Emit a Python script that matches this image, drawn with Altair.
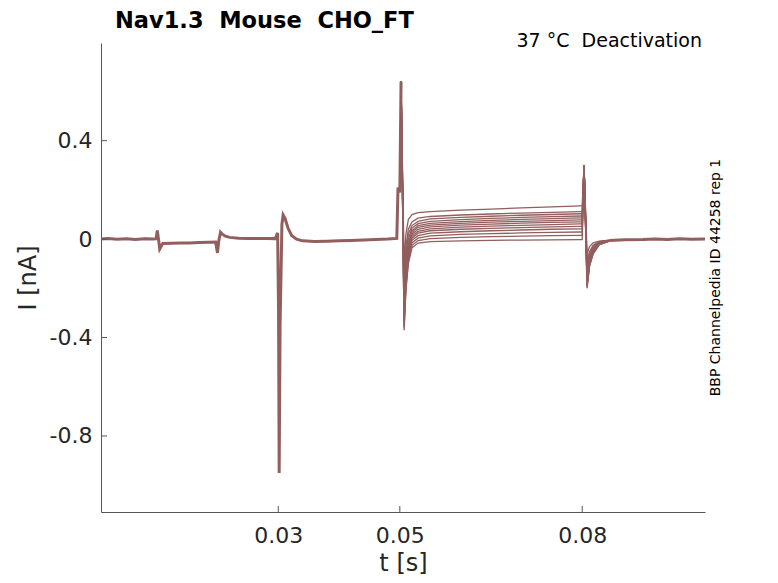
import altair as alt
import pandas as pd

# ---- shared part of all sweeps (before the 0.05 s step) ----
PRE_T = [0.00084, 0.002, 0.0035, 0.005, 0.0065, 0.008, 0.0095, 0.0099, 0.0101, 0.0103, 0.0105,
         0.011, 0.0125, 0.014, 0.0155, 0.017, 0.0185, 0.0197, 0.0200, 0.0202, 0.0205, 0.0208,
         0.0213, 0.022, 0.0235, 0.025, 0.0265, 0.028, 0.0295, 0.0299, 0.03005, 0.03015, 0.0303,
         0.0306, 0.0308, 0.0311, 0.0316, 0.0322, 0.033, 0.034, 0.036, 0.038, 0.040, 0.042, 0.044,
         0.046, 0.048, 0.0495, 0.0497, 0.0500, 0.0502]
PRE_I = [0.0, 0.002, -0.001, 0.001, -0.002, 0.001, 0.0, 0.002, 0.035, 0.0, -0.04,
         -0.018, -0.017, -0.016, -0.016, -0.014, -0.013, -0.012, -0.056, -0.01, 0.028, 0.02,
         0.012, 0.007, 0.004, 0.003, 0.002, 0.003, 0.002, 0.025, -0.3, -0.95, -0.35,
         0.06, 0.098, 0.085, 0.045, 0.015, 0.0, -0.007, -0.01, -0.009, -0.007, -0.006, -0.004,
         -0.002, 0.0, 0.003, 0.21, 0.19, 0.64]

# ---- per-sweep part (step at 0.05 s and tail at 0.08 s) ----
STEP_T = [0.0502, 0.0507, 0.0510, 0.0514, 0.0520, 0.0530, 0.0550, 0.0600, 0.0650, 0.0700,
          0.0750, 0.0797, 0.0800, 0.0803, 0.0808, 0.0812, 0.0818, 0.0828, 0.0845]
SPIKE_ON = 0.64
SPIKE_OFF = 0.30
# columns: 0.0507 .. 0.0797 (11 values), then tail 0.0808 .. 0.0845 (5 values)
TRACE_I = [
    [-0.10, 0.02, 0.08, 0.100, 0.108, 0.112, 0.118, 0.122, 0.127, 0.131, 0.135, -0.06, -0.03, -0.015, -0.008, -0.004],
    [-0.15, -0.03, 0.04, 0.070, 0.085, 0.092, 0.098, 0.102, 0.106, 0.109, 0.112, -0.09, -0.05, -0.025, -0.010, -0.004],
    [-0.18, -0.06, 0.02, 0.055, 0.072, 0.082, 0.088, 0.093, 0.097, 0.100, 0.103, -0.10, -0.06, -0.030, -0.012, -0.005],
    [-0.21, -0.08, 0.00, 0.045, 0.063, 0.072, 0.079, 0.084, 0.088, 0.091, 0.094, -0.12, -0.07, -0.035, -0.014, -0.005],
    [-0.23, -0.10, -0.02, 0.035, 0.055, 0.064, 0.071, 0.076, 0.080, 0.083, 0.086, -0.13, -0.075, -0.040, -0.015, -0.006],
    [-0.25, -0.11, -0.03, 0.028, 0.048, 0.057, 0.064, 0.069, 0.072, 0.075, 0.078, -0.14, -0.08, -0.040, -0.016, -0.006],
    [-0.27, -0.13, -0.04, 0.020, 0.040, 0.050, 0.057, 0.061, 0.065, 0.068, 0.070, -0.15, -0.085, -0.045, -0.017, -0.006],
    [-0.29, -0.14, -0.05, 0.012, 0.032, 0.042, 0.049, 0.053, 0.056, 0.059, 0.062, -0.16, -0.09, -0.050, -0.018, -0.007],
    [-0.31, -0.16, -0.06, 0.004, 0.024, 0.034, 0.040, 0.044, 0.047, 0.050, 0.052, -0.17, -0.095, -0.050, -0.019, -0.007],
    [-0.33, -0.17, -0.07, -0.005, 0.014, 0.024, 0.030, 0.034, 0.037, 0.040, 0.042, -0.18, -0.10, -0.055, -0.020, -0.007],
    [-0.35, -0.19, -0.08, -0.015, 0.004, 0.013, 0.019, 0.022, 0.025, 0.027, 0.029, -0.19, -0.105, -0.055, -0.020, -0.007],
    [-0.36, -0.20, -0.09, -0.025, -0.006, 0.002, 0.007, 0.010, 0.012, 0.014, 0.015, -0.195, -0.11, -0.060, -0.022, -0.008],
    [-0.37, -0.21, -0.10, -0.035, -0.016, -0.010, -0.007, -0.005, -0.004, -0.003, -0.002, -0.20, -0.11, -0.060, -0.022, -0.008],
]

# ---- shared tail after the 0.08 s step ----
POST_T = [0.0845, 0.087, 0.090, 0.092, 0.094, 0.096, 0.098, 0.1002]
POST_I = [-0.006, -0.003, -0.002, 0.0, -0.002, 0.001, -0.001, 0.0]

X_TICKS = [0.03, 0.05, 0.08]
Y_TICKS = [0.4, 0.0, -0.4, -0.8]
TITLE = ["Nav1.3\u00a0 Mouse\u00a0 CHO_FT"]
CORNER = ["37 °C\u00a0 Deactivation"]
SIDE = ["BBP Channelpedia ID 44258 rep 1"]

COLOR = "#925e5e"
AXC = "#262626"
FONT = "DejaVu Sans"
W, H = 604, 469

shared_rows = []
for seg, T, I in (("pre", PRE_T, PRE_I), ("post", POST_T, POST_I)):
    for j, (t, i) in enumerate(zip(T, I)):
        shared_rows.append({"seg": seg, "o": j, "t": t, "i": i})
trace_rows = []
for k, row in enumerate(TRACE_I):
    vals = [SPIKE_ON] + row[:11] + [row[10], SPIKE_OFF] + row[11:]
    for j, (t, i) in enumerate(zip(STEP_T, vals)):
        trace_rows.append({"seg": f"s{k}", "o": j, "t": t, "i": i})

shared_df = pd.DataFrame(shared_rows)
trace_df = pd.DataFrame(trace_rows)

X = alt.X("t:Q",
          scale=alt.Scale(domain=[0.00084, 0.1002], nice=False, zero=False),
          axis=alt.Axis(values=X_TICKS, format=".2f", title="t [s]", grid=False,
                        tickSize=0, labelPadding=30, labelBaseline="alphabetic",
                        labelFontSize=22, labelColor=AXC, labelFont=FONT,
                        titleFontSize=24, titleFont=FONT, titleColor=AXC,
                        titleFontWeight="normal", titleX=W / 2, titleY=58,
                        titleBaseline="alphabetic", titleAlign="center",
                        domainColor="#555555", domainWidth=1))
Y = alt.Y("i:Q",
          scale=alt.Scale(domain=[-1.109, 0.797], nice=False, zero=False),
          axis=alt.Axis(values=Y_TICKS, title="I [nA]", grid=False, tickSize=0,
                        labelPadding=9,
                        labelExpr="datum.value === 0 ? '0' : (datum.value < 0 ? '-' + format(-datum.value, '.1f') : format(datum.value, '.1f'))",
                        labelFontSize=22, labelColor=AXC, labelFont=FONT,
                        titleFontSize=24, titleFont=FONT, titleColor=AXC,
                        titleFontWeight="normal", titleAngle=270, titleX=-66,
                        titleY=H / 2, titleBaseline="alphabetic", titleAlign="center",
                        domainColor="#555555", domainWidth=1))

shared = alt.Chart(shared_df).mark_line(color=COLOR, strokeWidth=3.0).encode(
    x=X, y=Y, detail="seg:N", order="o:Q")
traces = alt.Chart(trace_df).mark_line(color=COLOR, strokeWidth=1.3).encode(
    x=X, y=Y, detail="seg:N", order="o:Q")

yt = alt.Chart(pd.DataFrame({"i": Y_TICKS})).mark_rule(color="#555555", strokeWidth=1).encode(
    y=Y, x=alt.value(0), x2=alt.value(6))
xt = alt.Chart(pd.DataFrame({"t": X_TICKS})).mark_rule(color="#555555", strokeWidth=1).encode(
    x=X, y=alt.value(H), y2=alt.value(H - 6))

title = alt.Chart(pd.DataFrame({"label": TITLE})).mark_text(
    align="left", baseline="alphabetic", fontSize=22.5, fontWeight="bold", font=FONT,
    color="black").encode(x=alt.value(14), y=alt.value(-15), text="label:N")
corner = alt.Chart(pd.DataFrame({"label": CORNER})).mark_text(
    align="right", baseline="alphabetic", fontSize=19, font=FONT, color="black").encode(
    x=alt.value(601), y=alt.value(4), text="label:N")
side = alt.Chart(pd.DataFrame({"label": SIDE})).mark_text(
    align="center", baseline="alphabetic", fontSize=14, font=FONT, color="black", angle=270).encode(
    x=alt.value(619), y=alt.value(H / 2), text="label:N")

chart = alt.layer(shared, traces, yt, xt, title, corner, side).properties(
    width=W, height=H,
    autosize=alt.AutoSizeParams(type="none"),
    padding={"left": 93, "top": 35, "right": 60, "bottom": 63},
).configure_view(stroke=None)

chart.save("out.html", embed_options={"renderer": "svg", "actions": False})
